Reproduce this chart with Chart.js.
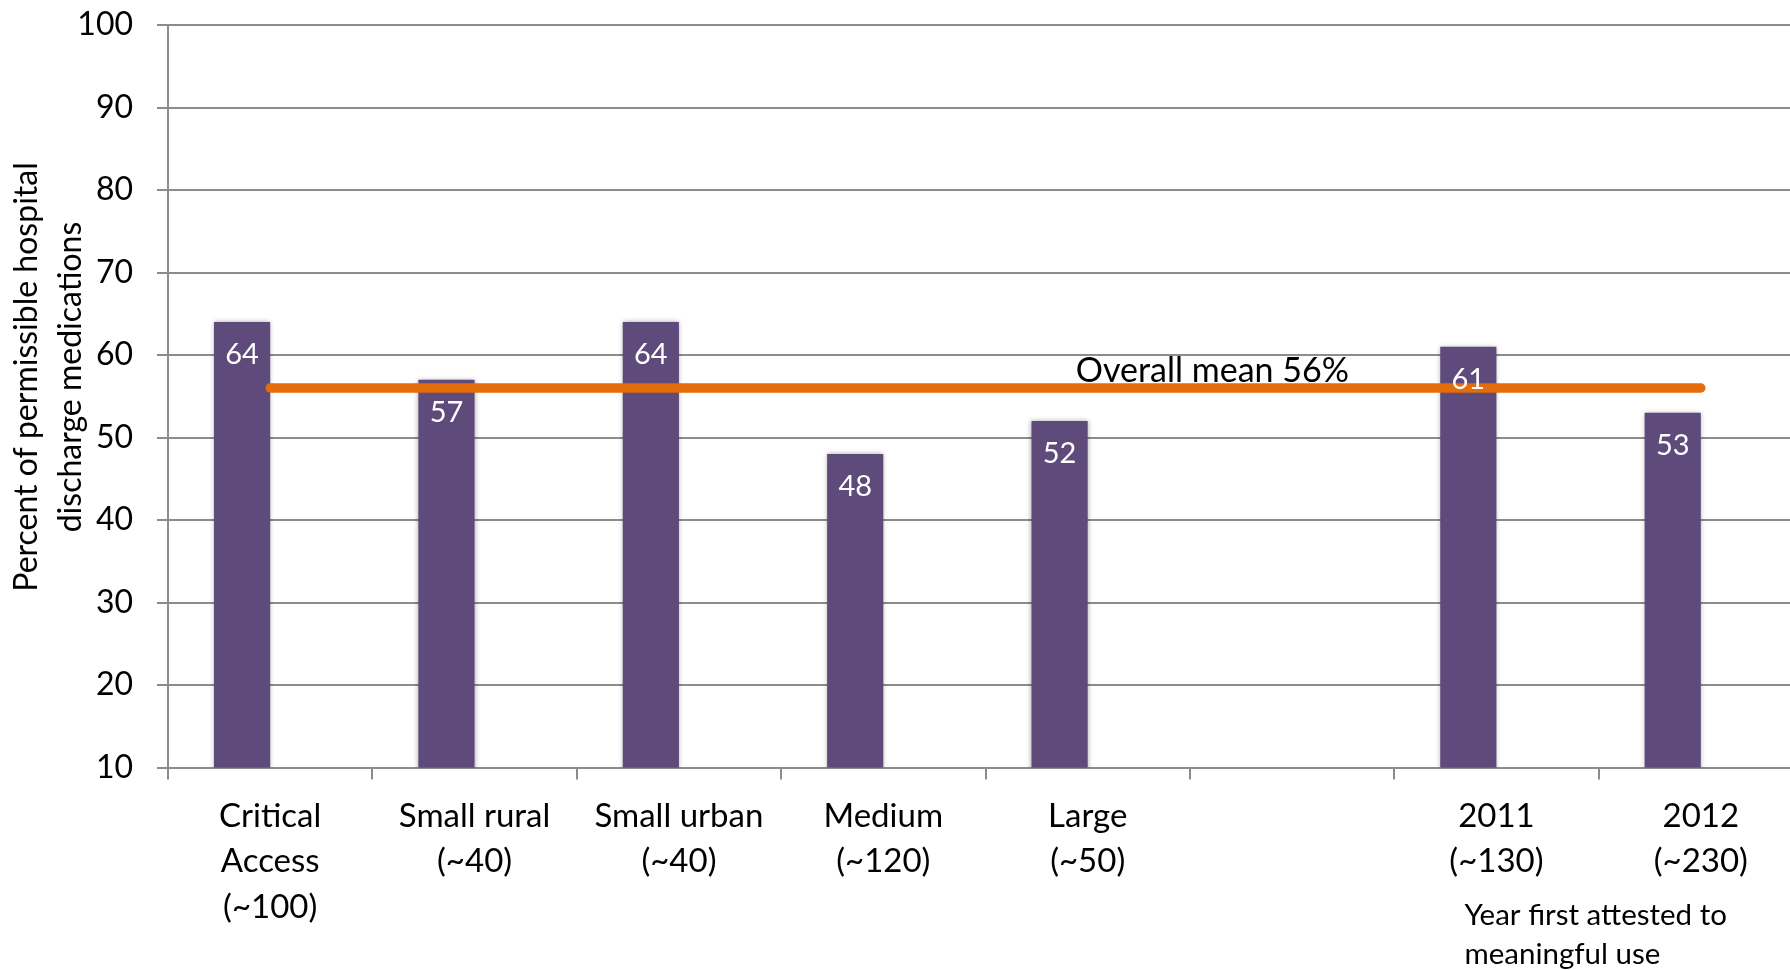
<!DOCTYPE html>
<html>
<head>
<meta charset="utf-8">
<script src="https://cdn.jsdelivr.net/npm/chart.js@4.4.0/dist/chart.umd.min.js"></script>
<style>
  html, body { margin: 0; padding: 0; background: #ffffff; overflow: hidden; }
  #wrap { position: relative; width: 1803px; height: 970px; }
</style>
</head>
<body>
<div id="wrap"><canvas id="c"></canvas></div>
<script>
// ---- Data ----
const categories = [
  ['Critical', 'Access', '(~100)'],
  ['Small rural', '(~40)'],
  ['Small urban', '(~40)'],
  ['Medium', '(~120)'],
  ['Large', '(~50)'],
  '',
  ['2011', '(~130)'],
  ['2012', '(~230)']
];
const barValues = [64, 57, 64, 48, 52, null, 61, 53];
const emptySlot = [null, null, null, null, null, null, null, null];
const meanValues = [56, 56, 56, 56, 56, 56, 56, 56];
const meanLabel = 'Overall mean 56%';
const yTitleLines = ['Percent of permissible hospital', 'discharge medications'];
const groupNote = ['Year first attested to', 'meaningful use'];
const yMin = 10, yMax = 100, yStep = 10;

const FONT = "Lato, 'Open Sans', sans-serif";
const GRID = '#8c8c8c';

const barShadow = {
  id: 'barShadow',
  beforeDatasetDraw(chart, args) {
    if (args.meta.type === 'bar') {
      const ctx = chart.ctx;
      ctx.save();
      ctx.shadowColor = 'rgba(0,0,0,0.35)';
      ctx.shadowBlur = 5;
      ctx.shadowOffsetX = 0;
      ctx.shadowOffsetY = 0;
    }
  },
  afterDatasetDraw(chart, args) {
    if (args.meta.type === 'bar') chart.ctx.restore();
  }
};

const texts = {
  id: 'texts',
  afterDatasetsDraw(chart) {
    const ctx = chart.ctx;
    const xs = chart.scales.x, ys = chart.scales.y;
    ctx.save();
    // value labels inside bars
    const meta = chart.getDatasetMeta(0);
    ctx.font = '29px ' + FONT;
    ctx.fillStyle = '#ffffff';
    ctx.textAlign = 'center';
    ctx.textBaseline = 'alphabetic';
    meta.data.forEach((bar, i) => {
      if (barValues[i] == null) return;
      ctx.fillText(String(barValues[i]), bar.x, bar.y + 42);
    });
    // mean annotation
    ctx.fillStyle = '#000000';
    ctx.font = '34px ' + FONT;
    ctx.fillText(meanLabel, xs.getPixelForValue(4.61), ys.getPixelForValue(meanValues[0]) - 6);
    // group note
    ctx.font = '29.5px ' + FONT;
    ctx.textAlign = 'left';
    const gx = xs.getPixelForValue(6) - 32;
    ctx.fillText(groupNote[0], gx, 925);
    ctx.fillText(groupNote[1], gx, 964);
    // y title
    ctx.font = '32px ' + FONT;
    ctx.textAlign = 'center';
    const cy = 377;
    [37, 81].forEach((bx, i) => {
      ctx.save();
      ctx.translate(bx, cy);
      ctx.rotate(-Math.PI / 2);
      ctx.fillText(yTitleLines[i], 0, 0);
      ctx.restore();
    });
    ctx.restore();
  }
};

new Chart(document.getElementById('c'), {
  data: {
    labels: categories,
    datasets: [
      {
        type: 'bar',
        data: barValues,
        backgroundColor: '#5f4b7b',
        borderWidth: 0,
        categoryPercentage: 0.55,
        barPercentage: 1.0,
        order: 1
      },
      {
        type: 'bar',
        data: emptySlot,
        backgroundColor: 'rgba(0,0,0,0)',
        categoryPercentage: 0.55,
        barPercentage: 1.0,
        order: 2
      },
      {
        type: 'line',
        data: meanValues,
        borderColor: '#e46c0a',
        borderWidth: 9.5,
        borderCapStyle: 'round',
        pointRadius: 0,
        fill: false,
        order: 0
      }
    ]
  },
  options: {
    responsive: true,
    maintainAspectRatio: false,
    animation: false,
    layout: { padding: { top: 25, left: 0, right: 0, bottom: 0 } },
    plugins: { legend: { display: false }, tooltip: { enabled: false } },
    scales: {
      x: {
        afterFit(scale) { scale.height = 202.5; scale.paddingLeft = 0; scale.paddingRight = 0; },
        grid: { offset: true, drawOnChartArea: false, drawTicks: true, tickLength: 12, color: GRID, lineWidth: 2 },
        border: { display: true, color: GRID, width: 2 },
        ticks: {
          color: '#000000',
          font: { family: FONT, size: 33, lineHeight: 1.38 },
          padding: 14,
          maxRotation: 0,
          autoSkip: false
        }
      },
      y: {
        min: yMin,
        max: yMax,
        afterFit(scale) { scale.width = 168; scale.paddingTop = 0; scale.paddingBottom = 0; },
        grid: { color: GRID, lineWidth: 2, drawTicks: true, tickLength: 11 },
        border: { display: true, color: GRID, width: 2 },
        ticks: {
          stepSize: yStep,
          color: '#000000',
          font: { family: FONT, size: 32 },
          padding: 24
        }
      }
    }
  },
  plugins: [barShadow, texts]
});
</script>
</body>
</html>
